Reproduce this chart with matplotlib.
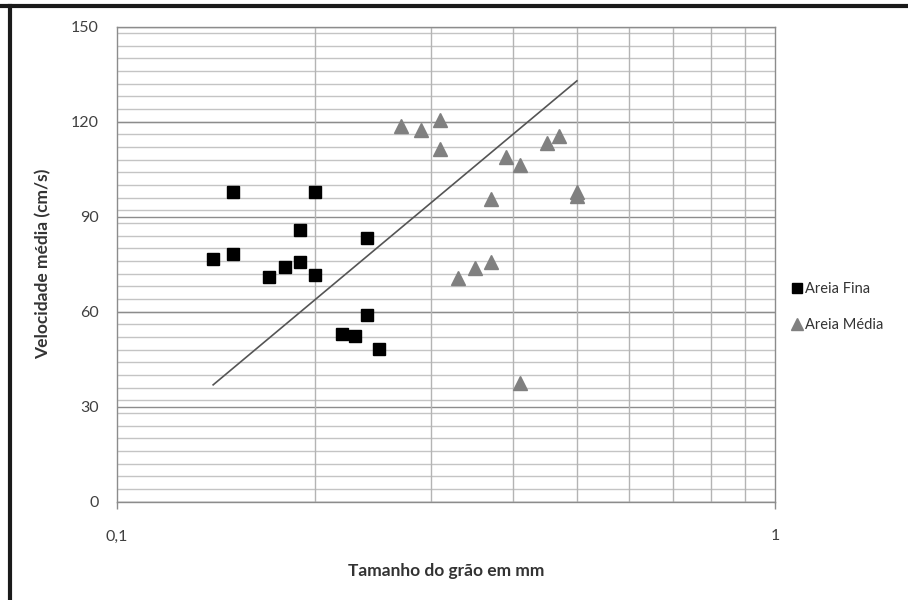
import numpy as np
import matplotlib
matplotlib.use('Agg')
import matplotlib.pyplot as plt
from matplotlib.lines import Line2D

plt.rcParams['font.family'] = ['Lato', 'DejaVu Sans']

# Areia fina (quadrados)
fina_x = [0.14, 0.15, 0.15, 0.17, 0.18, 0.19, 0.19, 0.20, 0.20, 0.24, 0.24, 0.22, 0.23, 0.25]
fina_y = [76.7, 97.9, 78.2, 70.9, 74.1, 85.8, 75.7, 97.9, 71.7, 83.3, 59.1, 53.1, 52.3, 48.1]

# Areia media (triangulos)
media_x = [0.27, 0.29, 0.31, 0.31, 0.45, 0.47, 0.39, 0.41, 0.37, 0.50, 0.50, 0.33, 0.35, 0.37, 0.41]
media_y = [118.6, 117.3, 120.5, 111.3, 113.4, 115.5, 108.8, 106.3, 95.5, 97.8, 96.5, 70.7, 73.9, 75.6, 37.6]

# linha de tendencia
trend_x = [0.14, 0.50]
trend_y = [36.9, 132.9]

y_ticks = [0, 30, 60, 90, 120, 150]
x_ticks = [0.1, 1]
x_tick_labels = ['0,1', '1']

fig = plt.figure(figsize=(9.08, 6.0), dpi=100)
ax = fig.add_axes([117 / 908, 1 - 501.7 / 600, 658 / 908, 475 / 600])

ax.set_xscale('log')
ax.set_xlim(0.1, 1)
ax.set_ylim(0, 150)

# grade: secundarias a cada 4, principais a cada 30
for v in np.arange(0, 151, 4):
    ax.axhline(v, color='#c4c4c4', lw=1.0, zorder=0)
for v in y_ticks:
    ax.axhline(v, color='#8c8c8c', lw=1.0, zorder=0)
for v in np.arange(0.2, 1.0, 0.1):
    ax.axvline(v, color='#b4b4b4', lw=1.0, zorder=0)

ax.plot(trend_x, trend_y, color='#555555', lw=1.2, zorder=2)
ax.plot(fina_x, fina_y, ls='none', marker='s', ms=8.5, color='black',
        label='Areia Fina', zorder=3)
ax.plot(media_x, media_y, ls='none', marker='^', ms=9.5, color='#808080',
        label='Areia Média', zorder=3)

ax.set_yticks(y_ticks)
ax.set_xticks(x_ticks)
ax.set_xticklabels(x_tick_labels)
ax.xaxis.set_minor_locator(matplotlib.ticker.NullLocator())
ax.tick_params(axis='y', length=0, pad=13, labelsize=11.5, labelcolor='#404040')
ax.tick_params(axis='x', length=5, width=1, color='#8c8c8c', pad=15,
               labelsize=11.5, labelcolor='#404040')

for s in ax.spines.values():
    s.set_color('#8c8c8c')
    s.set_linewidth(1.0)

ax.set_xlabel('Tamanho do grão em mm', fontsize=12.5, fontweight='bold',
              color='#333333', labelpad=14)
ax.set_ylabel('Velocidade média (cm/s)', fontsize=12.5, fontweight='bold',
              color='#333333', labelpad=14)

handles = [
    Line2D([], [], ls='none', marker='s', ms=7, color='black'),
    Line2D([], [], ls='none', marker='^', ms=8, color='#808080'),
]
fig.legend(handles, ['Areia Fina', 'Areia Média'], loc='center left',
           bbox_to_anchor=(779 / 908, 1 - 307 / 600), frameon=False,
           fontsize=10.5, handlelength=0.6, handletextpad=0.3, labelspacing=1.5,
           labelcolor='#333333')

# moldura externa (topo e esquerda)
fig.add_artist(Line2D([0, 1], [1 - 6 / 600, 1 - 6 / 600], color='#1a1a1a', lw=3,
                      transform=fig.transFigure))
fig.add_artist(Line2D([10 / 908, 10 / 908], [0, 1 - 6 / 600], color='#1a1a1a', lw=3,
                      transform=fig.transFigure))

fig.savefig('out.png', dpi=100)
